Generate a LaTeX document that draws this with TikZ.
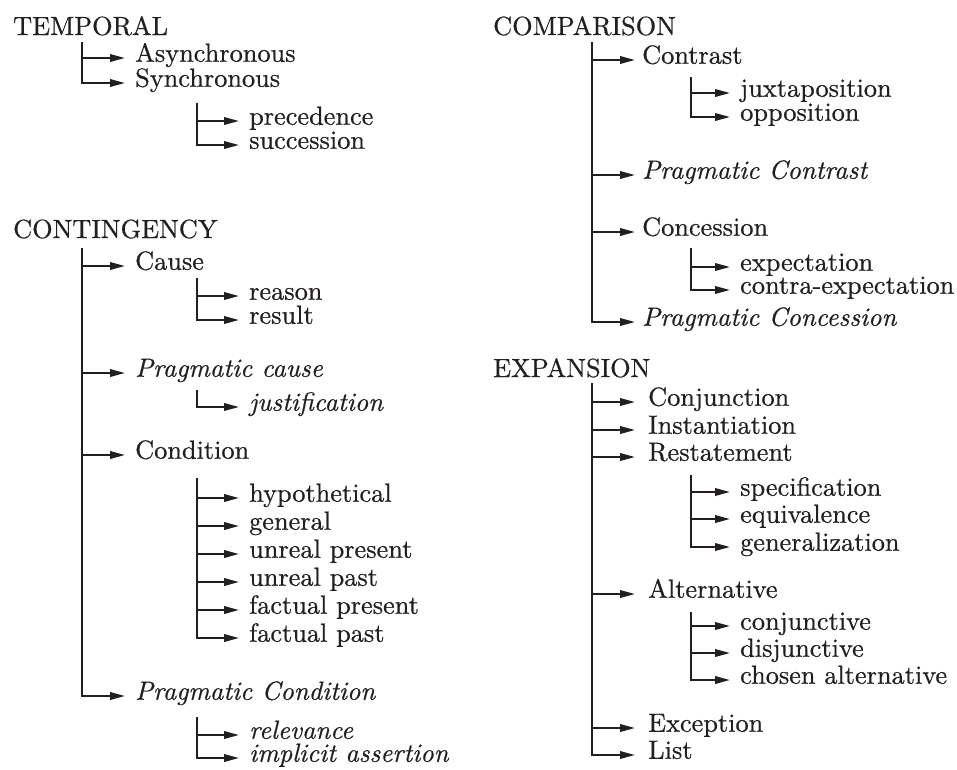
\documentclass[tikz,border=0pt]{standalone}
\usepackage{fontspec}
\setmainfont{lmroman10}[Extension=.otf, UprightFont=*-regular, ItalicFont=*-italic, FakeBold=0.6]
\usetikzlibrary{arrows.meta}
\definecolor{ink}{RGB}{35,31,32}
\newcommand{\tfont}{\fontsize{26.3}{30}\selectfont}
\tikzset{
  lbl/.style={anchor=mid west, yshift=-1.6pt, inner ysep=0pt, inner xsep=10pt, font=\tfont, text=ink},
  lblA/.style={lbl, inner xsep=7pt},
  lblB/.style={lbl, inner xsep=13pt},
  head/.style={anchor=base west, inner sep=0pt, font=\tfont, text=ink},
  arr/.style={-{Triangle[length=15pt,width=7.5pt]}, line width=2pt, draw=ink},
}
\newcommand{\tip}[1]{([yshift=1.6pt]#1.mid west)}
\begin{document}
\begin{tikzpicture}[x=1pt,y=-1pt]
\useasboundingbox (0,0) rectangle (957,769);

% ---------------- TEMPORAL ----------------
\node[head] (tem) at (13,35) {TEMPORAL};
\coordinate (temT) at (82,42);
\node[lbl] (asy) at (125,58) {Asynchronous};
\node[lbl] (syn) at (125,83) {Synchronous};
\coordinate (synT) at (197,103);
\node[lbl] (pre) at (239,121) {precedence};
\node[lbl] (suc) at (239,145) {succession};
\foreach \c in {asy,syn} \draw[arr] (temT) |- \tip{\c};
\foreach \c in {pre,suc} \draw[arr] (synT) |- \tip{\c};

% ---------------- CONTINGENCY ----------------
\node[head] (con) at (13,238) {CONTINGENCY};
\coordinate (conT) at (82,248);
\node[lbl] (cau) at (125,266) {Cause};
\coordinate (cauT) at (197,278);
\node[lbl] (rea) at (239,296) {reason};
\node[lbl] (res) at (239,320) {result};
\node[lbl] (pca) at (125,373) {\itshape Pragmatic cause};
\coordinate (pcaT) at (197,390);
\node[lbl] (jus) at (239,407) {\itshape justification};
\node[lbl] (cnd) at (125,455) {Condition};
\coordinate (cndT) at (197,478);
\node[lbl] (hyp) at (239,498) {hypothetical};
\node[lbl] (gen) at (239,526) {general};
\node[lbl] (upr) at (239,554) {unreal present};
\node[lbl] (upa) at (239,582) {unreal past};
\node[lbl] (fpr) at (239,610) {factual present};
\node[lbl] (fpa) at (239,638) {factual past};
\node[lbl] (pcn) at (125,696) {\itshape Pragmatic Condition};
\coordinate (pcnT) at (197,717);
\node[lbl] (rel) at (239,735) {\itshape relevance};
\node[lbl] (imp) at (239,758) {\itshape implicit assertion};
\foreach \c in {cau,pca,cnd,pcn} \draw[arr] (conT) |- \tip{\c};
\foreach \c in {rea,res} \draw[arr] (cauT) |- \tip{\c};
\draw[arr] (pcaT) |- \tip{jus};
\foreach \c in {hyp,gen,upr,upa,fpr,fpa} \draw[arr] (cndT) |- \tip{\c};
\foreach \c in {rel,imp} \draw[arr] (pcnT) |- \tip{\c};

% ---------------- COMPARISON ----------------
\node[head] (cmp) at (493,35) {COMPARISON};
\coordinate (cmpT) at (592,42);
\node[lblA] (ctr) at (635,60) {Contrast};
\coordinate (ctrT) at (691,77);
\node[lbl] (jux) at (730,93) {juxtaposition};
\node[lbl] (opp) at (730,117) {opposition};
\node[lblA] (pct) at (635,175) {\itshape Pragmatic Contrast};
\node[lblA] (ccs) at (635,232) {Concession};
\coordinate (ccsT) at (691,248);
\node[lbl] (exp) at (730,267) {expectation};
\node[lbl] (cex) at (730,290) {contra-expectation};
\node[lblA] (pcc) at (635,322) {\itshape Pragmatic Concession};
\foreach \c in {ctr,pct,ccs,pcc} \draw[arr] (cmpT) |- \tip{\c};
\foreach \c in {jux,opp} \draw[arr] (ctrT) |- \tip{\c};
\foreach \c in {exp,cex} \draw[arr] (ccsT) |- \tip{\c};

% ---------------- EXPANSION ----------------
\node[head] (exn) at (493,377) {EXPANSION};
\coordinate (exnT) at (592,383);
\node[lblB] (cnj) at (635,402) {Conjunction};
\node[lblB] (ins) at (635,430) {Instantiation};
\node[lblB] (rst) at (635,457) {Restatement};
\coordinate (rstT) at (691,475);
\node[lbl] (spe) at (730,492) {specification};
\node[lbl] (equ) at (730,519) {equivalence};
\node[lbl] (gnz) at (730,547) {generalization};
\node[lblB] (alt) at (635,594) {Alternative};
\coordinate (altT) at (691,612);
\node[lbl] (cjv) at (730,626) {conjunctive};
\node[lbl] (djv) at (730,653) {disjunctive};
\node[lbl] (cha) at (730,680) {chosen alternative};
\node[lblB] (exc) at (635,728) {Exception};
\node[lblB] (lst) at (635,755) {List};
\foreach \c in {cnj,ins,rst,alt,exc,lst} \draw[arr] (exnT) |- \tip{\c};
\foreach \c in {spe,equ,gnz} \draw[arr] (rstT) |- \tip{\c};
\foreach \c in {cjv,djv,cha} \draw[arr] (altT) |- \tip{\c};
\end{tikzpicture}
\end{document}
